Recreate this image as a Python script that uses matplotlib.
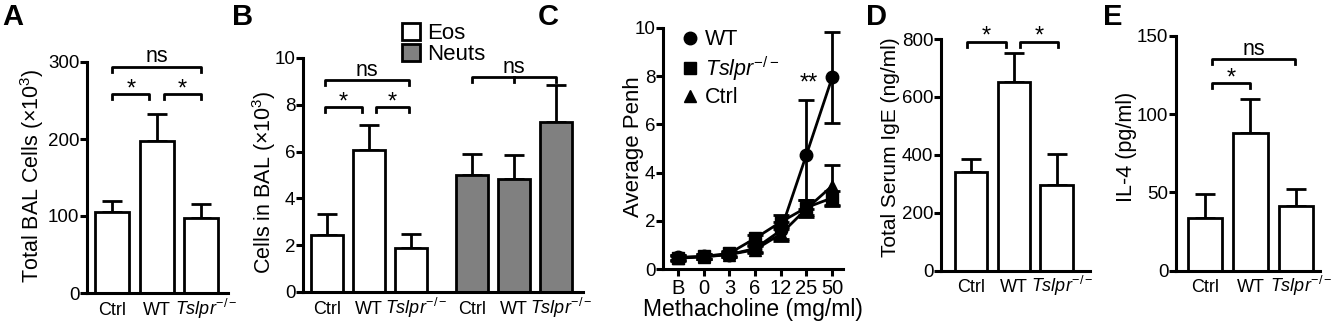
import matplotlib
matplotlib.use("Agg")
import matplotlib.pyplot as plt
import matplotlib.transforms as mtransforms
from matplotlib.lines import Line2D
from matplotlib.patches import Patch
import numpy as np

plt.rcParams["font.family"] = ["Liberation Sans", "DejaVu Sans"]
plt.rcParams["mathtext.fontset"] = "custom"
plt.rcParams["mathtext.rm"] = "Liberation Sans"
plt.rcParams["mathtext.it"] = "Liberation Sans:italic"
plt.rcParams["axes.linewidth"] = 2.2

groups = ["Ctrl", "WT", r"$Tslpr^{-/-}$"]

# A - total BAL cells (x10^3)
bal_total = [105, 198, 98]
bal_total_err = [14, 34, 17]

# B - cells in BAL (x10^3)
eos = [2.42, 6.05, 1.88]
eos_err = [0.9, 1.08, 0.62]
neuts = [4.98, 4.85, 7.28]
neuts_err = [0.9, 1.0, 1.57]

# C - airway hyperresponsiveness
doses = ["B", "0", "3", "6", "12", "25", "50"]
penh_wt = [0.48, 0.52, 0.6, 0.85, 1.6, 4.75, 7.95]
penh_wt_err = [0.1, 0.1, 0.1, 0.15, 0.35, 2.25, 1.9]
penh_ko = [0.47, 0.52, 0.65, 1.27, 1.95, 2.55, 2.95]
penh_ko_err = [0.1, 0.1, 0.1, 0.15, 0.3, 0.3, 0.3]
penh_ctrl = [0.45, 0.5, 0.6, 0.8, 1.45, 2.5, 3.45]
penh_ctrl_err = [0.1, 0.1, 0.1, 0.15, 0.3, 0.35, 0.85]

# D - serum IgE (ng/ml)
ige = [340, 652, 295]
ige_err = [47, 98, 108]

# E - IL-4 (pg/ml)
il4 = [33.5, 87.7, 41.5]
il4_err = [15.3, 21.9, 10.7]

LW = 2.0
TICK_FS = 13.5
XT_FS = 13
LAB_FS = 15.5

fig = plt.figure(figsize=(13.33, 3.22), dpi=100)
W, H = 1333.0, 322.0
shift = mtransforms.ScaledTranslation(4 / 72, 0, fig.dpi_scale_trans)


def style_axis(ax, ymax, ystep):
    for s in ["top", "right"]:
        ax.spines[s].set_visible(False)
    ax.set_ylim(0, ymax)
    ax.set_yticks(np.arange(0, ymax + ystep / 2, ystep))
    ax.tick_params(axis="y", direction="out", length=5, width=2.2, labelsize=TICK_FS, pad=0.5)


def bars(ax, x, vals, errs, color="white"):
    ax.bar(x, vals, width=0.76, color=color, edgecolor="black", linewidth=LW, zorder=2)
    ax.errorbar(x, vals, yerr=[np.zeros(len(vals)), errs], fmt="none", ecolor="black",
                elinewidth=LW, capsize=7, capthick=LW, zorder=1)


def bracket(ax, x0, x1, y, label, ymax, mid=None):
    h = 0.022 * ymax
    ax.plot([x0, x0, x1, x1], [y - h, y, y, y - h], color="black", lw=LW, clip_on=False)
    if mid is not None:
        ax.plot([mid, mid], [y, y - h], color="black", lw=LW, clip_on=False)
    if label == "ns":
        ax.annotate(label, ((x0 + x1) / 2, y), xytext=(0, 3), textcoords="offset points",
                    ha="center", va="baseline", fontsize=15.5, annotation_clip=False)
    else:
        ax.annotate(label, ((x0 + x1) / 2, y), xytext=(0, -1), textcoords="offset points",
                    ha="center", va="baseline", fontsize=17, annotation_clip=False)


def bar_xticks(ax, pos, labels):
    ax.set_xticks(pos)
    ax.set_xticklabels(labels, fontsize=XT_FS)
    ax.tick_params(axis="x", length=0, pad=15.5)
    for t in ax.get_xticklabels():
        t.set_verticalalignment("baseline")
        if "Tslpr" in t.get_text():
            t.set_transform(t.get_transform() + shift)


def add_axes(left, right, bottom, top):
    return fig.add_axes([left / W, 1 - bottom / H, (right - left) / W, (bottom - top) / H])


# ---- A
axA = add_axes(87, 228, 293, 62)
x3 = np.arange(3)
bars(axA, x3, bal_total, bal_total_err)
style_axis(axA, 300, 100)
axA.set_xlim(-0.56, 2.6)
bar_xticks(axA, x3, groups)
axA.set_ylabel("Total BAL Cells (×10$^3$)", fontsize=LAB_FS)
axA.yaxis.set_label_coords(-0.294, 0.506)
bracket(axA, 0, 0.84, 258, "*", 300)
bracket(axA, 1.16, 2, 258, "*", 300)
bracket(axA, 0, 2, 294, "ns", 300)

# ---- B
axB = add_axes(303, 583, 292, 58)
xe = np.arange(3)
xn = np.arange(3) + 3.45
bars(axB, xe, eos, eos_err)
bars(axB, xn, neuts, neuts_err, color="#808080")
style_axis(axB, 10, 2)
axB.set_xlim(-0.58, 6.1)
bar_xticks(axB, np.concatenate([xe, xn]), groups + groups)
axB.set_ylabel("Cells in BAL (×10$^3$)", fontsize=LAB_FS)
axB.yaxis.set_label_coords(-0.091, 0.47)
bracket(axB, -0.05, 0.83, 7.92, "*", 10)
bracket(axB, 1.17, 1.95, 7.92, "*", 10)
bracket(axB, -0.05, 1.95, 9.06, "ns", 10)
bracket(axB, xn[0], xn[2], 9.19, "ns", 10, mid=xn[1])
handles = [Patch(facecolor="white", edgecolor="black", linewidth=LW, label="Eos"),
           Patch(facecolor="#808080", edgecolor="black", linewidth=LW, label="Neuts")]
axB.legend(handles=handles, loc="lower left", bbox_to_anchor=(0.355, 0.97), frameon=False,
           fontsize=16, handlelength=0.8, handleheight=0.8, handletextpad=0.3,
           labelspacing=0.0, borderpad=0, borderaxespad=0)

# ---- C
axC = add_axes(663, 843, 269, 28)
xc = np.arange(len(doses))
for vals, errs, mk, lab in [(penh_ctrl, penh_ctrl_err, "^", "Ctrl"),
                            (penh_ko, penh_ko_err, "s", r"$Tslpr^{-/-}$"),
                            (penh_wt, penh_wt_err, "o", "WT")]:
    axC.errorbar(xc, vals, yerr=errs, color="black", marker=mk, markersize=9, lw=LW,
                 elinewidth=LW, capsize=6, capthick=LW, label=lab)
style_axis(axC, 10, 2)
axC.set_xlim(-0.58, 6.42)
axC.set_xticks(xc)
axC.set_xticklabels(doses, fontsize=14.5)
axC.tick_params(axis="x", direction="out", length=5, width=2.2, pad=2)
axC.set_ylabel("Average Penh", fontsize=16)
axC.yaxis.set_label_coords(-0.103, 0.506)
axC.set_xlabel("Methacholine (mg/ml)", fontsize=16.5, labelpad=0)
axC.text(5.1, 7.7, "**", ha="center", va="center", fontsize=17)
leg_handles = [Line2D([], [], color="black", marker="o", ls="none", markersize=9, label="WT"),
               Line2D([], [], color="black", marker="s", ls="none", markersize=9, label=r"$Tslpr^{-/-}$"),
               Line2D([], [], color="black", marker="^", ls="none", markersize=9, label="Ctrl")]
axC.legend(handles=leg_handles, loc="upper left", bbox_to_anchor=(0.04, 1.04), frameon=False,
           fontsize=15.5, handlelength=0.8, handletextpad=0.3, labelspacing=0.2, borderpad=0)

# ---- D
axD = add_axes(941, 1090, 270.7, 39)
bars(axD, x3, ige, ige_err)
style_axis(axD, 800, 200)
axD.set_xlim(-0.7, 2.78)
bar_xticks(axD, x3, groups)
axD.set_ylabel("Total Serum IgE (ng/ml)", fontsize=15)
axD.yaxis.set_label_coords(-0.275, 0.534)
bracket(axD, -0.1, 0.82, 791, "*", 800)
bracket(axD, 1.15, 2.03, 791, "*", 800)

# ---- E
axE = add_axes(1176, 1320, 270.7, 35.7)
bars(axE, x3, il4, il4_err)
style_axis(axE, 150, 50)
axE.set_xlim(-0.64, 2.53)
bar_xticks(axE, x3, groups)
axE.set_ylabel("IL-4 (pg/ml)", fontsize=LAB_FS)
axE.yaxis.set_label_coords(-0.274, 0.526)
bracket(axE, 0.15, 0.98, 119.6, "*", 150)
bracket(axE, 0.15, 1.99, 135, "ns", 150)

for x, letter in [(2, "A"), (232, "B"), (538, "C"), (866, "D"), (1103, "E")]:
    fig.text(x / W, 1 - 3 / H, letter, fontsize=21, fontweight="bold", va="top", ha="left")

fig.savefig("out.png", dpi=100)
